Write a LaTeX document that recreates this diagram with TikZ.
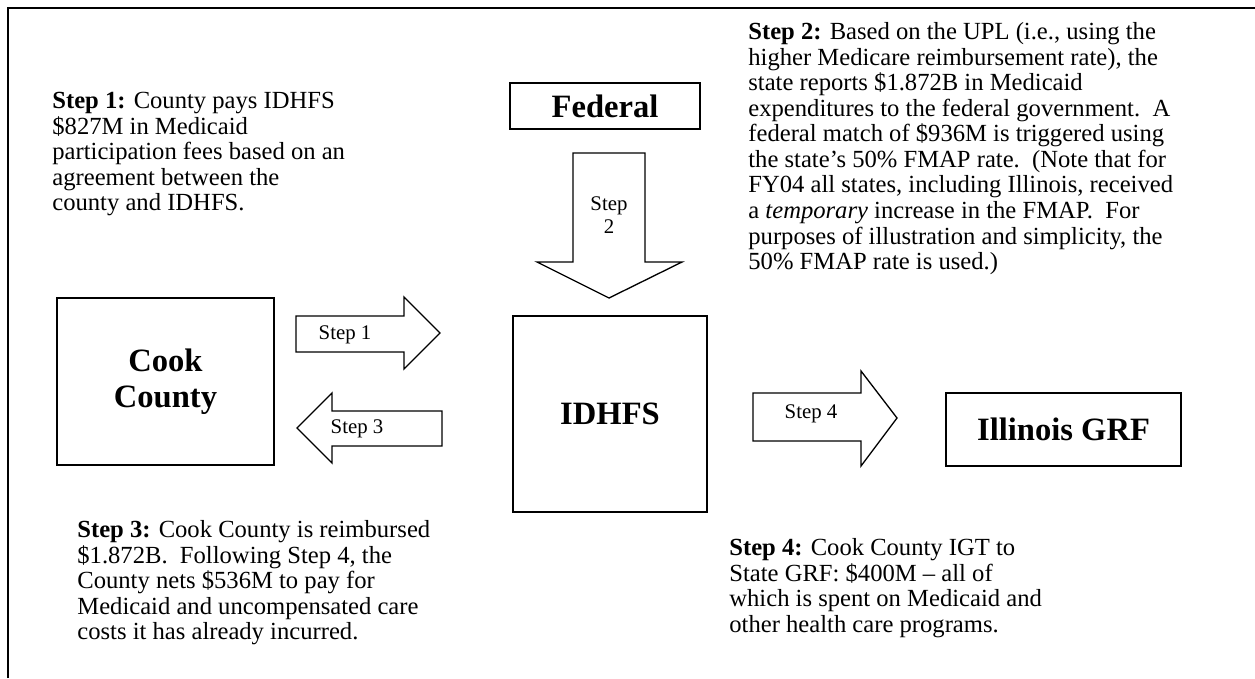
\documentclass[tikz,border=0pt]{standalone}
\usepackage{fontspec}
\setmainfont{Liberation Serif}
\usepackage{tikz}
\usetikzlibrary{calc}
\usetikzlibrary{positioning}
\def\px{0.528pt}

\begin{document}
\begin{tikzpicture}[x=0.528pt,y=-0.528pt]
  % some styles
  \tikzset{
    party/.style={
      rectangle,
      draw=black,
      line width=0.8pt,
      inner sep=0pt,
      align=center,
      font=\fontsize{17.2pt}{19pt}\selectfont\bfseries
    }
  }
  \tikzset{blk/.style={draw=black,line width=0.7pt,fill=white,line join=miter}}
  \tikzset{steplab/.style={inner sep=0pt,align=center,font=\fontsize{11pt}{12.5pt}\selectfont}}
  \tikzset{note/.style={inner sep=0pt,anchor=north west,align=left,font=\fontsize{13pt}{13.5pt}\selectfont}}

\useasboundingbox (0,0) rectangle (1255,678);
% frame, open at the right and bottom
\draw[line width=1pt] (8,678) -- (8,8) -- (1255,8);

% the four parties
\node[party, minimum width=190*\px, minimum height=46*\px] (fed) at (605,106) {Federal};
\node[party, minimum width=217*\px, minimum height=167*\px] (cook) at (165.5,381.5) {Cook\\County};
\node[party, minimum width=194*\px, minimum height=196*\px] (idhfs) at (610,414) {IDHFS};
\node[party, minimum width=235*\px, minimum height=73*\px] (grf) at (1063.5,429.5) {Illinois GRF};

% block arrows
\draw[blk] (296,316) -- (404,316) -- (404,297) -- (440,333) -- (404,369) -- (404,352) -- (296,352) -- cycle;
\node[steplab] (lab1) at (345,335) {Step 1};
\draw[blk] (573,153) -- (645,153) -- (645,262) -- (682,262) -- (609,298) -- (537,262) -- (573,262) -- cycle;
\node[steplab] (lab2) at (609,215) {Step\\2};
\draw[blk] (442,411) -- (332,411) -- (332,393) -- (297,428) -- (332,463) -- (332,446) -- (442,446) -- cycle;
\node[steplab] (lab3) at (357,429) {Step 3};
\draw[blk] (753,393) -- (861,393) -- (861,371) -- (897,418) -- (861,466) -- (861,441) -- (753,441) -- cycle;
\node[steplab] (lab4) at (811,414) {Step 4};

% explanations
\node[note] (txt1) at (52,92) {\textbf{Step 1:} County pays IDHFS\\
  \$827M in Medicaid\\
  participation fees based on an\\
  agreement between the\\
  county and IDHFS.};
\node[note] (txt2) at (748,22) {\textbf{Step 2:} Based on the UPL (i.e., using the\\
  higher Medicare reimbursement rate), the\\
  state reports \$1.872B in Medicaid\\
  expenditures to the federal government.\ \ A\\
  federal match of \$936M is triggered using\\
  the state's 50\% FMAP rate.\ \ (Note that for\\
  FY04 all states, including Illinois, received\\
  a \textit{temporary} increase in the FMAP.\ \ For\\
  purposes of illustration and simplicity, the\\
  50\% FMAP rate is used.)};
\node[note] (txt3) at (77,520) {\textbf{Step 3:} Cook County is reimbursed\\
  \$1.872B.\ \ Following Step 4, the\\
  County nets \$536M to pay for\\
  Medicaid and uncompensated care\\
  costs it has already incurred.};
\node[note] (txt4) at (729,538) {\textbf{Step 4:} Cook County IGT to\\
  State GRF: \$400M -- all of\\
  which is spent on Medicaid and\\
  other health care programs.};

\end{tikzpicture}
\end{document}
